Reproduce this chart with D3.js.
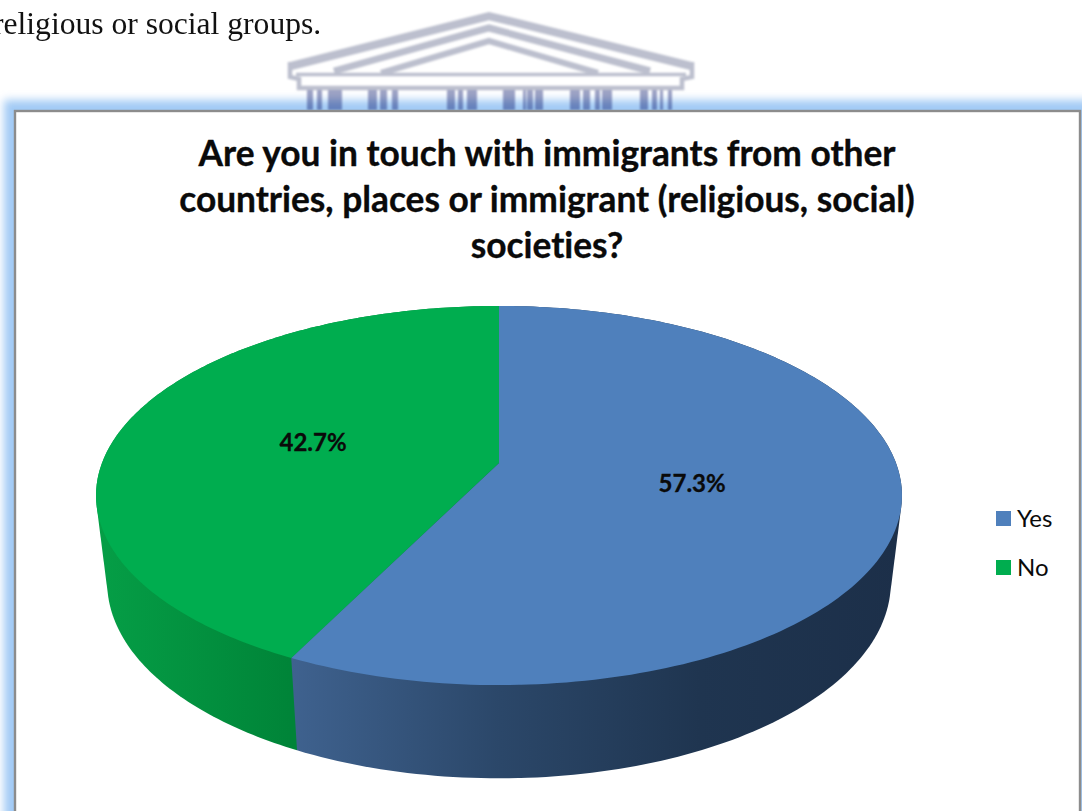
<!DOCTYPE html>
<html>
<head>
<meta charset="utf-8">
<script src="https://cdn.jsdelivr.net/npm/d3@7/dist/d3.min.js"></script>
<style>
html,body{margin:0;padding:0;background:#fff;overflow:hidden}
svg{display:block}
text{font-variant-ligatures:none}
</style>
</head>
<body>
<svg id="chart" width="1082" height="811"></svg>
<script>
// Survey answers
const categories = ["Yes", "No"];
const shares = [57.3, 42.7];
const shareLabels = ["57.3%", "42.7%"];
const topColors = ["#4f80bc", "#00ad4f"];
const titleLines = [
  "Are you in touch with immigrants from other",
  "countries, places or immigrant (religious, social)",
  "societies?"
];
const bodyLine = "religious or social groups.";

// Pediment and column spans of the crest printed behind the page
const crestRoofs = [
  [[291, 66], [489, 16], [691, 66]],
  [[334, 71], [489, 28], [650, 71]],
  [[381, 73], [489, 41], [598, 73]]
];
const crestColumns = [
  [307, 313], [317, 322], [328, 342], [368, 377], [380, 387], [392, 398],
  [447, 455], [458, 463], [467, 477], [503, 515], [523, 526], [527, 533],
  [535, 543], [570, 580], [583, 590], [595, 600], [602, 612], [640, 648],
  [652, 657], [660, 663], [668, 672]
];

const svg = d3.select("#chart");
const defs = svg.append("defs");

defs.append("filter").attr("id", "glow")
  .attr("x", "-5%").attr("y", "-5%").attr("width", "110%").attr("height", "110%")
  .append("feGaussianBlur").attr("stdDeviation", 4);
defs.append("filter").attr("id", "soft")
  .attr("x", "-5%").attr("y", "-20%").attr("width", "110%").attr("height", "140%")
  .append("feGaussianBlur").attr("stdDeviation", 1.1);

function sideGradient(id, stops) {
  const g = defs.append("linearGradient").attr("id", id)
    .attr("gradientUnits", "userSpaceOnUse")
    .attr("x1", stops[0][0]).attr("x2", stops[stops.length - 1][0])
    .attr("y1", 0).attr("y2", 0);
  const span = stops[stops.length - 1][0] - stops[0][0];
  stops.forEach(s => g.append("stop")
    .attr("offset", (s[0] - stops[0][0]) / span)
    .attr("stop-color", s[1]));
}
sideGradient("sideYes", [[290, "#3f628f"], [500, "#2b4769"], [700, "#1f3550"], [901, "#1c2f49"]]);
sideGradient("sideNo", [[100, "#059e46"], [290, "#008438"]]);

// Page text above the frame
svg.append("text").attr("x", -7).attr("y", 34)
  .attr("font-family", "'Liberation Serif', serif").attr("font-size", 31.6)
  .attr("fill", "#111").text(bodyLine);

// Frame glow
svg.append("rect").attr("x", 4).attr("y", 100).attr("width", 1100).attr("height", 800)
  .attr("fill", "#a2caf5").attr("filter", "url(#glow)");

// Crest
const crest = svg.append("g").attr("filter", "url(#soft)")
  .style("mix-blend-mode", "multiply");
const crestInk = "#bcbfce";
const roofLine = d3.line();
crest.selectAll("path.roof").data(crestRoofs).join("path")
  .attr("class", "roof").attr("d", roofLine).attr("fill", "none")
  .attr("stroke", crestInk).attr("stroke-width", (d, i) => i === 0 ? 8 : i === 1 ? 7 : 6);
crest.append("path").attr("d", roofLine([[290, 62], [290, 77], [299, 79], [299, 88], [682, 88], [682, 79], [692, 77], [692, 62]]))
  .attr("fill", "none").attr("stroke", crestInk).attr("stroke-width", 4.5);
crest.append("path").attr("d", roofLine([[296, 74.5], [686, 74.5]]))
  .attr("fill", "none").attr("stroke", crestInk).attr("stroke-width", 3.5);
crest.selectAll("rect.col").data(crestColumns).join("rect")
  .attr("class", "col")
  .attr("x", d => d[0]).attr("width", d => d[1] - d[0])
  .attr("y", 90).attr("height", 20)
  .attr("fill", "#9ea3c4");

// Chart frame
svg.append("rect").attr("x", 15).attr("y", 111).attr("width", 1065).attr("height", 760)
  .attr("fill", "#fff").attr("stroke", "#8c8c8c").attr("stroke-width", 2.4);

// Title
const title = svg.append("text")
  .attr("font-family", "Lato, sans-serif").attr("font-weight", 700)
  .attr("font-size", 35.3).attr("text-anchor", "middle").attr("fill", "#0a0a0a")
  .attr("stroke", "#0a0a0a").attr("stroke-width", 0.35);
title.selectAll("tspan").data(titleLines).join("tspan")
  .attr("x", 547).attr("y", (d, i) => 166 + i * 46).text(d => d);

// Perspective disc: the unit circle (u right, v toward the viewer) is carried
// onto the pie's top and bottom planes by a projective scaling.
const tilt = -0.1715;
function projector(plane) {
  return ([u, v]) => {
    const w = 1 + tilt * v;
    return [plane.cx + plane.sx * u / w, plane.cy + plane.sy * v / w];
  };
}
const topPlane = projector({cx: 499, cy: 463, sx: 397, sy: 184});
const basePlane = projector({cx: 499, cy: 549, sx: 386, sy: 190});
const onCircle = (angle, r = 1) => [r * Math.sin(angle), -r * Math.cos(angle)];

const slices = d3.pie().sort(null)(shares);
const rimSteps = a => d3.range(0, 181).map(i => a.startAngle + (a.endAngle - a.startAngle) * i / 180);
const outline = d3.line();

const pie = svg.append("g");

// Side walls: the hull of both rims gives the straight silhouette between
// planes. "No" goes first so the "Yes" wall trims its overreach at the seam.
pie.selectAll("path.wall").data(slices.slice().reverse()).join("path")
  .attr("class", "wall")
  .attr("d", d => {
    const steps = rimSteps(d);
    const pts = steps.map(a => topPlane(onCircle(a)))
      .concat(steps.map(a => basePlane(onCircle(a))));
    return outline(d3.polygonHull(pts)) + "Z";
  })
  .attr("fill", d => d.index === 0 ? "url(#sideYes)" : "url(#sideNo)");

pie.selectAll("path.face").data(slices).join("path")
  .attr("class", "face")
  .attr("d", d => {
    const rim = rimSteps(d).map(a => topPlane(onCircle(a)));
    return outline([topPlane([0, 0])].concat(rim)) + "Z";
  })
  .attr("fill", (d, i) => topColors[i]);

// Value labels sit about halfway along each slice's middle radius
pie.selectAll("text.value").data(slices).join("text")
  .attr("class", "value")
  .each(function (d, i) {
    const [x, y] = topPlane(onCircle((d.startAngle + d.endAngle) / 2, 0.49));
    d3.select(this).attr("x", x).attr("y", y + 8).text(shareLabels[i]);
  })
  .attr("font-family", "Lato, sans-serif").attr("font-weight", 700)
  .attr("font-size", 24).attr("text-anchor", "middle").attr("fill", "#0a0a0a")
  .attr("stroke", "#0a0a0a").attr("stroke-width", 0.3);

// Legend
const legendY = d3.scalePoint().domain(categories).range([511, 560]);
const legend = svg.append("g").selectAll("g").data(categories).join("g")
  .attr("transform", d => `translate(996,${legendY(d)})`);
legend.append("rect").attr("width", 15).attr("height", 15)
  .attr("fill", (d, i) => topColors[i]);
legend.append("text").attr("x", 21).attr("y", 16)
  .attr("font-family", "Lato, sans-serif").attr("font-size", 24)
  .attr("fill", "#0a0a0a").text(d => d);
</script>
</body>
</html>
